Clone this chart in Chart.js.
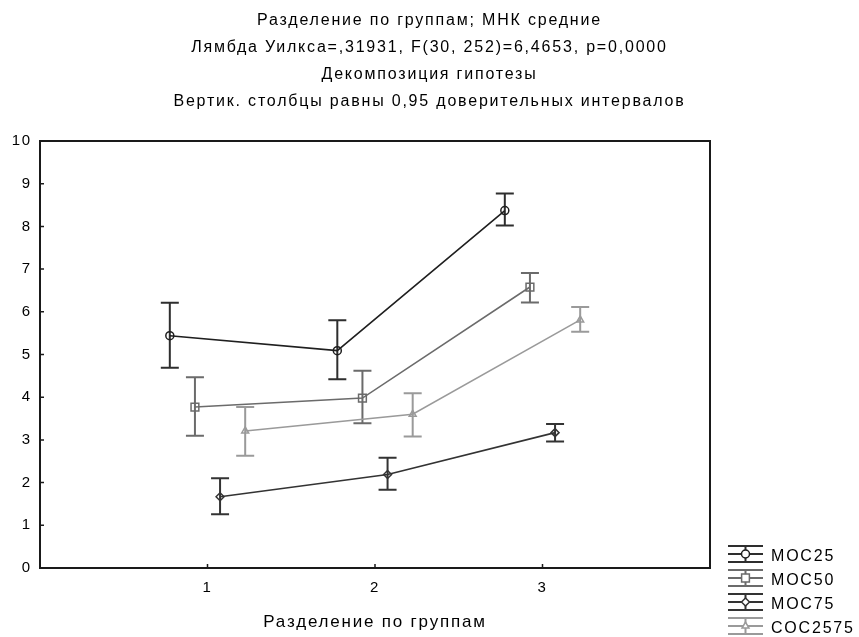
<!DOCTYPE html>
<html>
<head>
<meta charset="utf-8">
<script src="https://cdn.jsdelivr.net/npm/chart.js@4.4.1/dist/chart.umd.min.js"></script>
<style>
  html, body { margin: 0; padding: 0; background: #fff; }
</style>
</head>
<body>
<canvas id="myChart" width="859" height="637"></canvas>
<script>
// -------------------
// DATA

const titleLines = [
  "Разделение по группам; МНК средние",
  "Лямбда Уилкса=,31931, F(30, 252)=6,4653, p=0,0000",
  "Декомпозиция гипотезы",
  "Вертик. столбцы равны 0,95 доверительных интервалов",
];
const xAxisTitle = "Разделение по группам";

const groups = [1, 2, 3];
const xTickLabels = ["1", "2", "3"];
const seriesNames = ["MOC25", "MOC50", "MOC75", "COC2575"];

// means
const moc25 = [5.44, 5.09, 8.37];
const moc50 = [3.77, 3.98, 6.58];
const moc75 = [1.67, 2.19, 3.17];
const coc2575 = [3.21, 3.60, 5.81];

// 0.95 confidence interval bounds
const moc25Low = [4.69, 4.42, 8.02];
const moc25High = [6.21, 5.80, 8.77];
const moc50Low = [3.10, 3.39, 6.22];
const moc50High = [4.47, 4.62, 6.91];
const moc75Low = [1.26, 1.83, 2.96];
const moc75High = [2.10, 2.58, 3.37];
const coc2575Low = [2.63, 3.08, 5.53];
const coc2575High = [3.77, 4.09, 6.11];

// -------------------
// STYLE

const FONT = "'Liberation Sans', Arial, sans-serif";
const SPACING = "1.8px";
const groupShift = [-0.225, -0.075, 0.075, 0.225];
const styles = [
  { color: "#1f1f1f", bar: "#2e2e2e", point: "circle", r: 4 },
  { color: "#6b6b6b", bar: "#6b6b6b", point: "rect", r: 5.5 },
  { color: "#333333", bar: "#333333", point: "rectRot", r: 4 },
  { color: "#9a9a9a", bar: "#9a9a9a", point: "triangle", r: 4 },
];

const means = [moc25, moc50, moc75, coc2575];
const lows = [moc25Low, moc50Low, moc75Low, coc2575Low];
const highs = [moc25High, moc50High, moc75High, coc2575High];

const datasets = seriesNames.map((name, i) => {
  return {
    label: name,
    data: groups.map((g, j) => ({ x: g + groupShift[i], y: means[i][j] })),
    lower: lows[i],
    upper: highs[i],
    barColor: styles[i].bar,
    showLine: true,
    borderColor: styles[i].color,
    borderWidth: 1.6,
    pointStyle: styles[i].point,
    pointRadius: styles[i].r,
    pointBorderColor: styles[i].color,
    pointBackgroundColor: "rgba(255,255,255,0)",
    pointBorderWidth: 1.5,
  };
});

// -------------------
// PLUGINS

// statistica spaces its letters out a bit
const letterSpacing = {
  id: "letterSpacing",
  beforeLayout(chart) {
    chart.ctx.letterSpacing = SPACING;
  },
  beforeDraw(chart) {
    chart.ctx.letterSpacing = SPACING;
  },
};

const errorBars = {
  id: "errorBars",
  beforeDatasetsDraw(chart) {
    const { ctx, scales } = chart;
    chart.data.datasets.forEach(ds => {
      ctx.save();
      ctx.strokeStyle = ds.barColor;
      ctx.lineWidth = 2;
      ds.data.forEach((pt, j) => {
        const px = scales.x.getPixelForValue(pt.x);
        const top = scales.y.getPixelForValue(ds.upper[j]);
        const bot = scales.y.getPixelForValue(ds.lower[j]);
        ctx.beginPath();
        ctx.moveTo(px, top);
        ctx.lineTo(px, bot);
        ctx.moveTo(px - 9, top);
        ctx.lineTo(px + 9, top);
        ctx.moveTo(px - 9, bot);
        ctx.lineTo(px + 9, bot);
        ctx.stroke();
      });
      ctx.restore();
    });
  },
};

const frame = {
  id: "frame",
  afterDraw(chart) {
    const { ctx, chartArea: a, scales } = chart;
    ctx.save();
    ctx.strokeStyle = "#1a1a1a";
    ctx.lineWidth = 2;
    ctx.strokeRect(a.left, a.top, a.right - a.left, a.bottom - a.top);
    ctx.lineWidth = 1.5;
    ctx.beginPath();
    scales.y.ticks.forEach(t => {
      const py = scales.y.getPixelForValue(t.value);
      ctx.moveTo(a.left, py);
      ctx.lineTo(a.left + 4, py);
    });
    scales.x.ticks.forEach(t => {
      const px = scales.x.getPixelForValue(t.value);
      ctx.moveTo(px, a.bottom);
      ctx.lineTo(px, a.bottom - 4);
    });
    ctx.stroke();
    ctx.restore();
  },
};

const sideLegend = {
  id: "sideLegend",
  afterDraw(chart) {
    const { ctx } = chart;
    const x0 = 728;
    const x1 = 763;
    const xc = (x0 + x1) / 2;
    ctx.save();
    chart.data.datasets.forEach((ds, i) => {
      const ty = 557 + i * 24;
      const cy = ty - 3;
      ctx.strokeStyle = ds.barColor;
      ctx.lineWidth = 2;
      ctx.beginPath();
      [cy - 8, cy, cy + 8].forEach(ly => {
        ctx.moveTo(x0, ly);
        ctx.lineTo(x1, ly);
      });
      ctx.moveTo(xc, cy - 8);
      ctx.lineTo(xc, cy + 8);
      ctx.stroke();
      ctx.strokeStyle = ds.pointBorderColor;
      ctx.fillStyle = "#ffffff";
      ctx.lineWidth = 1.5;
      Chart.helpers.drawPoint(ctx, { pointStyle: ds.pointStyle, radius: ds.pointRadius, rotation: 0, borderWidth: 1.5 }, xc, cy);
      ctx.fillStyle = "#000";
      ctx.font = "16px " + FONT;
      ctx.letterSpacing = SPACING;
      ctx.textBaseline = "middle";
      ctx.textAlign = "left";
      ctx.fillText(ds.label, 771, ty);
    });
    ctx.restore();
  },
};

// -------------------
// CHART

const canvasHTML = document.getElementById("myChart");
const myChart = new Chart(canvasHTML, {
  type: "scatter",
  data: { datasets },
  options: {
    responsive: false,
    animation: false,
    layout: { padding: 0 },
    plugins: {
      legend: { display: false },
      tooltip: { enabled: false },
      title: {
        display: true,
        text: titleLines,
        color: "#000",
        font: { family: FONT, size: 16, weight: "normal", lineHeight: "27px" },
        padding: { top: 7, bottom: 26 },
      },
    },
    scales: {
      x: {
        type: "linear",
        position: "bottom",
        min: 0,
        max: 4,
        afterBuildTicks: s => {
          s.ticks = groups.map(g => ({ value: g }));
        },
        afterFit: s => {
          s.height = 69;
        },
        ticks: {
          color: "#000",
          padding: 11,
          font: { family: FONT, size: 15 },
          callback: (v, idx) => xTickLabels[idx],
        },
        grid: { display: false, drawTicks: false },
        border: { display: false },
        title: {
          display: true,
          text: xAxisTitle,
          color: "#000",
          font: { family: FONT, size: 17 },
          padding: { top: 0, bottom: 4 },
        },
      },
      y: {
        type: "linear",
        position: "left",
        min: 0,
        max: 10,
        afterFit: s => {
          s.width = 40;
        },
        ticks: {
          stepSize: 1,
          color: "#000",
          padding: 8,
          font: { family: FONT, size: 15 },
        },
        grid: { display: false, drawTicks: false },
        border: { display: false },
      },
      y2: {
        type: "linear",
        position: "right",
        afterFit: s => {
          s.width = 149;
        },
        ticks: { display: false },
        grid: { display: false, drawTicks: false },
        border: { display: false },
      },
    },
  },
  plugins: [letterSpacing, errorBars, frame, sideLegend],
});
</script>
</body>
</html>
